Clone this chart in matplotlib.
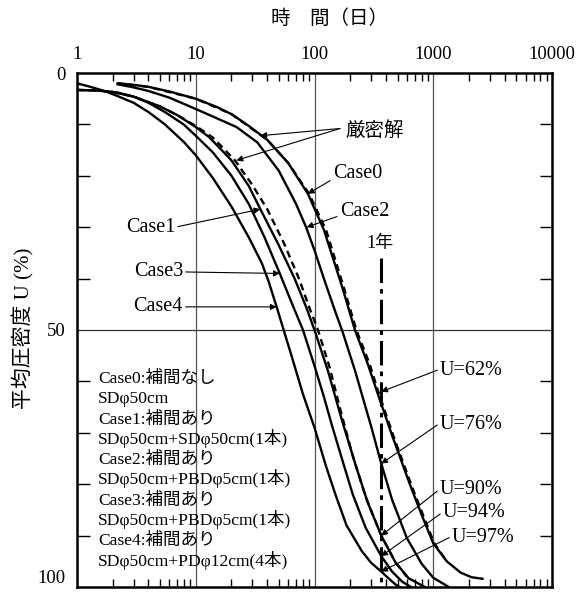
import matplotlib
matplotlib.use('Agg')
import matplotlib.pyplot as plt
from matplotlib import font_manager
from matplotlib.ticker import FixedLocator, NullFormatter

# ---------------- data ----------------
case0_t = [2.2, 3, 4, 6, 10, 15, 20, 28, 40, 60, 88, 120, 173, 219, 280, 342, 450, 635, 800, 1000, 1300, 1700, 2100, 2600]
case0_u = [2.0, 2.3, 2.7, 3.6, 5.0, 6.6, 8.0, 10.3, 13.0, 17.5, 23.5, 30.5, 42.0, 50.0, 56.5, 62.5, 70.5, 80.0, 86.0, 91.5, 95.0, 97.2, 98.1, 98.4]

exact0_t = [2.2, 4, 10, 20, 40, 60, 90, 125, 178, 225, 290, 350, 460, 650, 820, 1020, 1300]
exact0_u = [2.0, 2.7, 5.0, 8.0, 13.0, 17.5, 23.5, 30.5, 42.0, 50.0, 56.5, 62.5, 70.5, 80.0, 86.0, 91.5, 95.0]

case2_t = [2.2, 3, 4, 6, 10, 15, 22, 33, 50, 70, 85, 100, 122, 150, 172, 220, 302, 365, 450, 600, 800, 1000, 1350]
case2_u = [2.2, 2.8, 3.5, 4.8, 7.0, 8.8, 10.5, 13.5, 19.0, 25.5, 30.0, 34.5, 40.5, 46.5, 50.3, 58.0, 69.0, 76.0, 83.0, 90.5, 95.5, 98.2, 100.0]

case1_t = [1, 1.5, 2, 3, 5, 7, 10, 13, 20, 28, 35, 50, 68, 85, 100, 130, 170, 220, 280, 365, 480, 620, 850]
case1_u = [3.3, 3.4, 3.7, 4.6, 6.5, 8.2, 10.5, 12.5, 17.0, 22.0, 26.5, 33.5, 40.0, 45.5, 50.0, 58.0, 67.5, 76.0, 83.5, 90.0, 95.2, 98.3, 100.0]

exact1_t = [1, 1.5, 2, 3, 5, 7, 10, 14, 21.4, 30, 40, 55, 74, 90, 107, 135, 165, 210, 270, 365, 480, 600]
exact1_u = [3.3, 3.4, 3.7, 4.6, 6.5, 8.2, 10.3, 12.6, 17.0, 21.8, 26.5, 33.0, 40.0, 45.5, 50.0, 57.5, 65.5, 74.5, 82.5, 90.0, 95.2, 98.0]

case3_t = [1, 1.5, 2.2, 3, 4, 5.5, 7.9, 10, 14, 20, 28, 38, 51, 65, 80, 100, 120, 140, 170, 210, 270, 365, 450, 550, 650]
case3_u = [3.3, 3.4, 3.8, 4.6, 5.8, 7.6, 10.0, 12.2, 15.5, 20.0, 25.5, 32.0, 39.0, 45.0, 50.0, 57.0, 63.0, 68.5, 75.0, 82.0, 88.5, 94.0, 97.0, 99.0, 100.0]

case4_t = [1, 1.3, 1.7, 2.2, 3, 4, 5.5, 8, 10, 14, 20, 28, 36, 41, 48, 55, 65, 80, 100, 125, 150, 186, 250, 300, 365, 420, 480, 520]
case4_u = [2.0, 2.7, 3.5, 4.5, 5.8, 7.6, 10.0, 13.5, 16.0, 20.5, 26.0, 32.0, 37.0, 40.5, 45.5, 50.0, 55.5, 62.5, 69.0, 76.5, 82.0, 88.0, 93.0, 95.3, 97.0, 98.3, 99.5, 100.0]

one_year = 365
year_u = [62, 76, 90, 94, 97]
year_labels = ['U=62%', 'U=76%', 'U=90%', 'U=94%', 'U=97%']

x_ticks = [1, 10, 100, 1000, 10000]
x_ticklabels = ['1', '10', '100', '1000', '10000']
y_ticks = [0, 50, 100]
y_ticklabels = ['0', '50', '100']

legend_lines = [
    'Case0:補間なし',
    'SDφ50cm',
    'Case1:補間あり',
    'SDφ50cm+SDφ50cm(1本)',
    'Case2:補間あり',
    'SDφ50cm+PBDφ5cm(1本)',
    'Case3:補間あり',
    'SDφ50cm+PBDφ5cm(1本)',
    'Case4:補間あり',
    'SDφ50cm+PDφ12cm(4本)',
]

# ---------------- fonts ----------------
names = {f.name for f in font_manager.fontManager.ttflist}
SERIF = ['Liberation Serif', 'Noto Sans CJK JP', 'DejaVu Sans']
CJK = ['Noto Sans CJK JP', 'DejaVu Sans']
if 'Noto Sans Mono CJK JP' in names:
    LEG = ['Noto Sans Mono CJK JP', 'DejaVu Sans']
else:
    LEG = ['Liberation Serif', 'Noto Sans CJK JP', 'DejaVu Sans']

# ---------------- figure ----------------
W, H = 577, 593
fig = plt.figure(figsize=(W / 100, H / 100), dpi=100)
L, R, T, B = 77, 552, 73, 587
ax = fig.add_axes([L / W, 1 - B / H, (R - L) / W, (B - T) / H])
ax.set_xscale('log')
ax.set_xlim(1, 10000)
ax.set_ylim(100, 0)

for s in ax.spines.values():
    s.set_linewidth(1.8)

ax.xaxis.tick_top()
ax.xaxis.set_major_locator(FixedLocator(x_ticks))
ax.set_xticklabels(x_ticklabels)
minor_x = [m * 10 ** k for k in range(4) for m in range(2, 10)]
ax.xaxis.set_minor_locator(FixedLocator(minor_x))
ax.xaxis.set_minor_formatter(NullFormatter())
ax.set_yticks(y_ticks)
ax.set_yticklabels(y_ticklabels)
ax.yaxis.set_minor_locator(FixedLocator([10, 20, 30, 40, 60, 70, 80, 90]))

ax.tick_params(axis='x', which='major', length=0, pad=7, top=True, bottom=False,
               labeltop=True, labelbottom=False)
ax.tick_params(axis='x', which='minor', direction='in', length=6, width=1.0,
               top=True, bottom=True)
ax.tick_params(axis='y', which='major', length=0, pad=8)
ax.tick_params(axis='y', which='minor', direction='in', length=9, width=1.0,
               left=True, right=True)
for lab in ax.get_xticklabels() + ax.get_yticklabels():
    lab.set_family(SERIF)
    lab.set_fontsize(13.5)
ylabs = ax.get_yticklabels()
ylabs[-1].set_va('bottom')

ax.grid(True, axis='x', which='major', color='#555555', lw=0.9)
ax.axhline(50, color='#333333', lw=0.9)

# ---------------- curves ----------------
lw = 1.7
ax.plot(case0_t, case0_u, color='black', lw=lw)
ax.plot(exact0_t, exact0_u, color='black', lw=lw, ls=(0, (3, 2)))
ax.plot(case2_t, case2_u, color='black', lw=lw)
ax.plot(case1_t, case1_u, color='black', lw=lw)
ax.plot(exact1_t, exact1_u, color='black', lw=lw, ls=(0, (3, 2)))
ax.plot(case3_t, case3_u, color='black', lw=lw)
ax.plot(case4_t, case4_u, color='black', lw=lw)

# one-year line
ax.plot([one_year, one_year], [36, 100], color='black', lw=2.2,
        ls=(0, (8, 2, 1.5, 2)))
ax.text(356, 33.1, '1年', family=SERIF, fontsize=13, ha='center', va='center')

arrow = dict(arrowstyle='-|>', color='black', lw=0.8, mutation_scale=9,
             shrinkA=0, shrinkB=0)

# U labels at one year
u_text_pos = [(1140, 57.8), (1140, 68.3), (1140, 81.1), (1208, 85.6), (1438, 90.3)]
for (tx, ty), u, lab in zip(u_text_pos, year_u, year_labels):
    ax.annotate(lab, xy=(one_year, u), xytext=(tx, ty), fontsize=14.5,
                family=SERIF, ha='left', va='center',
                arrowprops=dict(arrow, relpos=(0, 0.55)))

# exact solution label
ax.text(181, 11.1, '厳密解', family=CJK, fontsize=14, ha='left', va='center')
ax.annotate('', xy=(35, 12.2), xytext=(164, 10.8), arrowprops=arrow)
ax.annotate('', xy=(22, 17.0), xytext=(164, 10.8), arrowprops=arrow)

# case labels
ax.annotate('Case0', xy=(88, 23.5), xytext=(143, 19.5), family=SERIF, fontsize=14.5,
            ha='left', va='center', arrowprops=dict(arrow, relpos=(0, 0.2)))
ax.annotate('Case2', xy=(86, 30.0), xytext=(163, 27.0), family=SERIF, fontsize=14.5,
            ha='left', va='center', arrowprops=dict(arrow, relpos=(0, 0.3)))
ax.annotate('Case1', xy=(35, 26.5), xytext=(6.7, 30.0), family=SERIF, fontsize=14.5,
            ha='right', va='center', arrowprops=dict(arrow, relpos=(1, 0.5)))
ax.annotate('Case3', xy=(51, 39.0), xytext=(7.8, 38.7), family=SERIF, fontsize=14.5,
            ha='right', va='center', arrowprops=dict(arrow, relpos=(1, 0.5)))
ax.annotate('Case4', xy=(48, 45.5), xytext=(7.8, 45.5), family=SERIF, fontsize=14.5,
            ha='right', va='center', arrowprops=dict(arrow, relpos=(1, 0.5)))

# legend-like text block (uniform baselines)
for i, line in enumerate(legend_lines):
    yb = 377 + i * 20.3 + 6
    ax.text((98 - L) / (R - L), 1 - (yb - T) / (B - T), line, transform=ax.transAxes,
            family=LEG, fontsize=12.6, ha='left', va='baseline')

# axis titles
fig.text(330 / W, 1 - 18 / H, '時　間（日）', family=CJK, fontsize=14,
         ha='center', va='center')
fig.text(23 / W, 1 - 328 / H, '平均圧密度 U (%)', family=SERIF, fontsize=15,
         rotation=90, ha='center', va='center')

fig.savefig('out.png', dpi=100)
